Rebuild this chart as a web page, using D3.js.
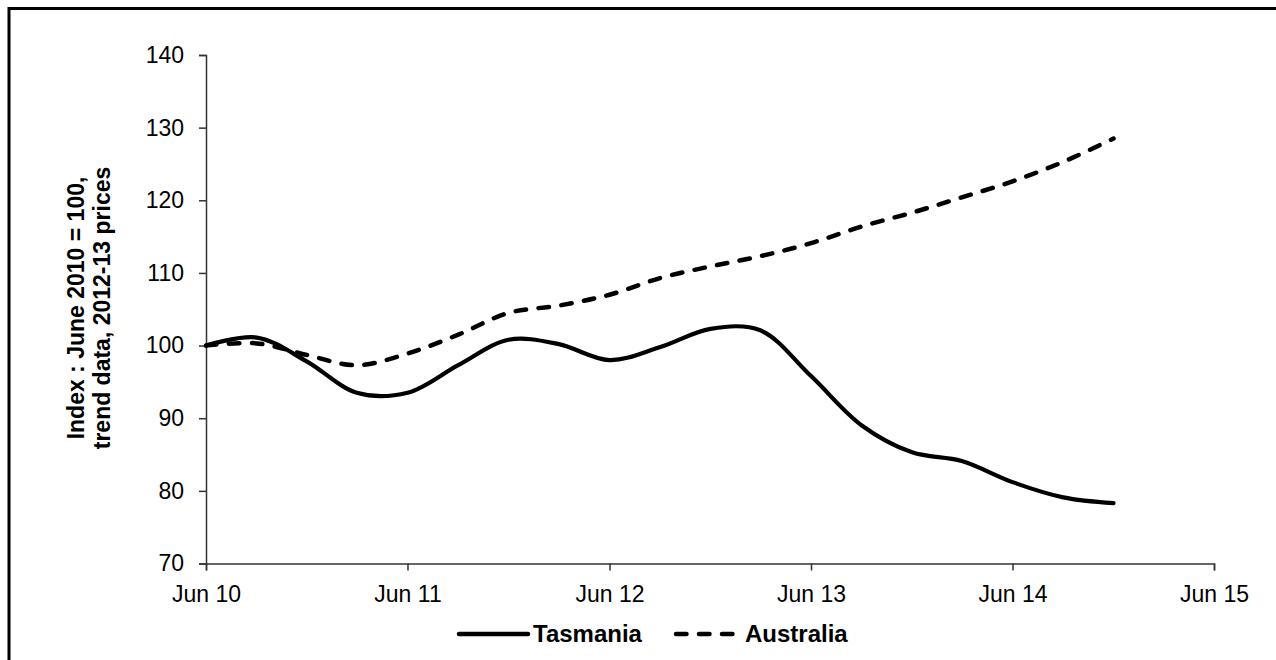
<!DOCTYPE html>
<html>
<head>
<meta charset="utf-8">
<script src="https://cdn.jsdelivr.net/npm/d3@7"></script>
<style>
  html, body { margin: 0; padding: 0; background: #fff; }
  svg { display: block; font-family: "Liberation Sans", Arial, sans-serif; }
</style>
</head>
<body>
<svg id="chart" width="1276" height="660"></svg>
<script>
// ---- data ----
const quarters = ["2010-06","2010-09","2010-12","2011-03","2011-06","2011-09","2011-12","2012-03","2012-06","2012-09","2012-12","2013-03","2013-06","2013-09","2013-12","2014-03","2014-06","2014-09","2014-12"];
const tasmania = [100.0, 101.1, 97.8, 93.5, 93.5, 97.3, 100.8, 100.2, 98.0, 99.8, 102.3, 102.1, 95.8, 89.0, 85.3, 84.1, 81.2, 79.1, 78.3];
const australia = [100.0, 100.3, 98.7, 97.3, 98.9, 101.5, 104.5, 105.5, 107.0, 109.3, 110.9, 112.3, 114.1, 116.4, 118.3, 120.4, 122.6, 125.3, 128.5];
const xTickDates = ["2010-06","2011-06","2012-06","2013-06","2014-06","2015-06"];
const xTickLabels = ["Jun 10","Jun 11","Jun 12","Jun 13","Jun 14","Jun 15"];
const yTicks = [70, 80, 90, 100, 110, 120, 130, 140];
const seriesNames = ["Tasmania", "Australia"];
const yTitle = ["Index : June 2010 = 100,", "trend data, 2012-13 prices"];

const parse = d3.timeParse("%Y-%m");
const dates = quarters.map(parse);
const tickDates = xTickDates.map(parse);

const svg = d3.select("#chart");

// frame
svg.append("rect")
  .attr("x", 9).attr("y", 8.5)
  .attr("width", 1290).attr("height", 680)
  .attr("fill", "none").attr("stroke", "#000").attr("stroke-width", 3);

const x = d3.scaleTime()
  .domain([tickDates[0], tickDates[tickDates.length - 1]])
  .range([206, 1214]);
const y = d3.scaleLinear().domain([70, 140]).range([563.5, 55]);

const axisColor = "#333";

// y axis
const yAxis = svg.append("g")
  .attr("transform", "translate(206,0)")
  .call(d3.axisLeft(y).tickValues(yTicks).tickSize(7).tickPadding(15).tickFormat(d3.format("d")));
// x axis
const xAxis = svg.append("g")
  .attr("transform", "translate(0,563.5)")
  .call(d3.axisBottom(x).tickValues(tickDates).tickSize(7).tickPadding(12)
    .tickFormat((d, i) => xTickLabels[i]));

[yAxis, xAxis].forEach(g => {
  g.select(".domain").attr("stroke", axisColor).attr("stroke-width", 1.5);
  g.selectAll(".tick line").attr("stroke", axisColor).attr("stroke-width", 1.5);
  g.selectAll(".tick text").attr("fill", "#000").attr("font-size", 23)
    .attr("font-family", "Liberation Sans, Arial, sans-serif");
});
xAxis.selectAll(".tick text").attr("dy", null).attr("y", 38);

// y title
const yt = svg.append("text")
  .attr("transform", "translate(84,308) rotate(-90)")
  .attr("text-anchor", "middle")
  .attr("font-size", 23).attr("font-weight", "bold");
yt.append("tspan").attr("x", 0).attr("y", 0).text(yTitle[0]);
yt.append("tspan").attr("x", 0).attr("y", 26).text(yTitle[1]);

// lines
const line = d3.line()
  .x((d, i) => x(dates[i]))
  .y(d => y(d))
  .curve(d3.curveCatmullRom.alpha(0.5));

svg.append("path")
  .datum(australia)
  .attr("d", line)
  .attr("fill", "none").attr("stroke", "#000").attr("stroke-width", 4.5)
  .attr("stroke-linecap", "round")
  .attr("stroke-dasharray", "10.5,12.5");

svg.append("path")
  .datum(tasmania)
  .attr("d", line)
  .attr("fill", "none").attr("stroke", "#000").attr("stroke-width", 4.2)
  .attr("stroke-linecap", "round").attr("stroke-linejoin", "round");

// legend
const lg = svg.append("g");
lg.append("line").attr("x1", 459).attr("x2", 528).attr("y1", 634).attr("y2", 634)
  .attr("stroke", "#000").attr("stroke-width", 4.5).attr("stroke-linecap", "round");
lg.append("text").attr("x", 533).attr("y", 642)
  .attr("font-size", 24).attr("font-weight", "bold").text(seriesNames[0]);
lg.append("line").attr("x1", 676).attr("x2", 740).attr("y1", 634).attr("y2", 634)
  .attr("stroke", "#000").attr("stroke-width", 4.5).attr("stroke-linecap", "round")
  .attr("stroke-dasharray", "10.5,12.5");
lg.append("text").attr("x", 745).attr("y", 642)
  .attr("font-size", 24).attr("font-weight", "bold").text(seriesNames[1]);
</script>
</body>
</html>
